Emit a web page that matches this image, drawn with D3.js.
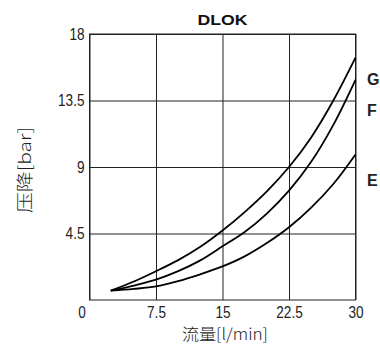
<!DOCTYPE html>
<html>
<head>
<meta charset="utf-8">
<script src="https://cdn.jsdelivr.net/npm/d3@7"></script>
<style>
	html, body { margin: 0; padding: 0; background: #fff; }
	svg { display: block; }
	.tick text { font-family: "Liberation Sans", Arial, sans-serif; font-size: 17px; fill: #222; }
</style>
</head>
<body>
<div id="chart"></div>
<script>
// flow [l/min] and pressure drop [bar]
var flow = [2.4, 5, 7.5, 10, 12.5, 15, 17.5, 20, 22.5, 25, 27.5, 30];
var seriesG = [0.63, 1.25, 1.95, 2.7, 3.6, 4.7, 5.95, 7.35, 9.0, 11.0, 13.5, 16.4];
var seriesF = [0.63, 0.98, 1.38, 1.95, 2.68, 3.63, 4.6, 5.85, 7.4, 9.35, 11.85, 14.9];
var seriesE = [0.63, 0.75, 0.92, 1.28, 1.74, 2.27, 2.95, 3.85, 4.92, 6.25, 7.85, 9.85];
var seriesNames = ["G", "F", "E"];
var xTicks = [0, 7.5, 15, 22.5, 30];
var yTicks = [4.5, 9, 13.5, 18];

var width = 380,
	height = 347,
	margin = {top: 34, right: 24.5, bottom: 47, left: 89.5},
	pw = width - margin.left - margin.right,
	ph = height - margin.top - margin.bottom,
	squeeze = 0.8;

var svg = d3.select("#chart").append("svg")
	.attr("width", width)
	.attr("height", height);

var g = svg.append("g")
	.attr("transform", "translate(" + margin.left + "," + margin.top + ")");

var x = d3.scaleLinear().domain([0, 30]).range([0, pw]);
var y = d3.scaleLinear().domain([0, 18]).range([ph, 0]);

// y axis + horizontal grid
var ya = g.append("g")
	.call(d3.axisLeft(y).tickValues(yTicks).tickSize(-pw).tickPadding(5)
		.tickFormat(function (d) { return String(d); }));
ya.select(".domain").remove();
ya.selectAll(".tick line").attr("stroke", "#222");
ya.selectAll(".tick text")
	.attr("x", -5 / squeeze)
	.attr("transform", "scale(" + squeeze + ",1)");

// x axis + vertical grid
var xa = g.append("g")
	.attr("transform", "translate(0," + ph + ")")
	.call(d3.axisBottom(x).tickValues(xTicks).tickSize(-ph).tickPadding(6)
		.tickFormat(function (d) { return String(d); }));
xa.select(".domain").remove();
xa.selectAll(".tick line").attr("stroke", "#222");
xa.selectAll(".tick text")
	.attr("transform", "scale(" + squeeze + ",1)")
	.filter(function (d) { return d === 0; })
	.attr("x", -8 / squeeze);

// frame
g.append("rect")
	.attr("x", 0).attr("y", 0)
	.attr("width", pw).attr("height", ph)
	.attr("fill", "none")
	.attr("stroke", "#222");

var series = [seriesG, seriesF, seriesE];
var line = d3.line()
	.x(function (d, i) { return x(flow[i]); })
	.y(function (d) { return y(d); })
	.curve(d3.curveCatmullRom.alpha(0.5));

g.selectAll("path.curve")
	.data(series)
	.join("path")
	.attr("class", "curve")
	.attr("d", line)
	.attr("fill", "none")
	.attr("stroke", "#000")
	.attr("stroke-width", 1.8);

// curve names on the right
var labelY = [85, 116, 186];
svg.selectAll("text.sname")
	.data(seriesNames)
	.join("text")
	.attr("class", "sname")
	.attr("x", 367)
	.attr("y", function (d, i) { return labelY[i]; })
	.attr("font-family", "'Liberation Sans', Arial, sans-serif")
	.attr("font-weight", "bold")
	.attr("font-size", 16)
	.attr("fill", "#222")
	.text(function (d) { return d; });

// title
svg.append("text")
	.attr("x", margin.left + pw / 2)
	.attr("y", 25)
	.attr("text-anchor", "middle")
	.attr("font-family", "'Liberation Sans', Arial, sans-serif")
	.attr("font-weight", "bold")
	.attr("font-size", 15.5)
	.attr("textLength", 50)
	.attr("lengthAdjust", "spacingAndGlyphs")
	.attr("fill", "#111")
	.text("DLOK");

// axis titles
svg.append("text")
	.attr("x", 225)
	.attr("y", 340)
	.attr("text-anchor", "middle")
	.attr("font-family", "'Noto Sans CJK SC', sans-serif")
	.attr("font-weight", 300)
	.attr("font-size", 16)
	.attr("textLength", 86)
	.attr("lengthAdjust", "spacingAndGlyphs")
	.attr("fill", "#222")
	.text("流量[l/min]");

svg.append("text")
	.attr("transform", "translate(31,170) rotate(-90)")
	.attr("text-anchor", "middle")
	.attr("font-family", "'Noto Sans CJK SC', sans-serif")
	.attr("font-weight", 300)
	.attr("font-size", 17)
	.attr("textLength", 86)
	.attr("lengthAdjust", "spacingAndGlyphs")
	.attr("fill", "#222")
	.text("压降[bar]");
</script>
</body>
</html>
